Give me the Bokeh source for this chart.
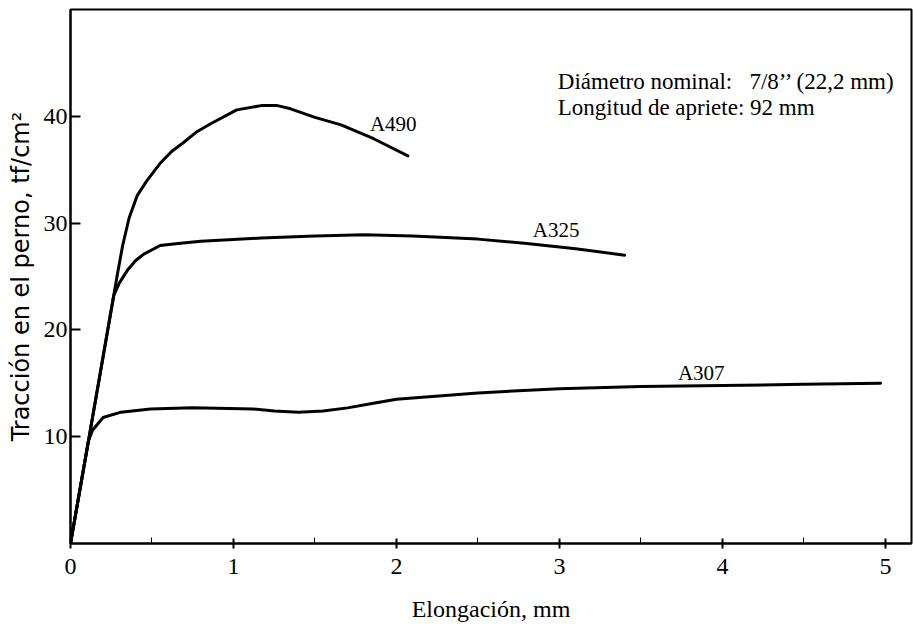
from bokeh.plotting import figure
from bokeh.models import Range1d, LinearAxis, FixedTicker, Label
from bokeh.embed import file_html
from bokeh.resources import INLINE

# Data (x: elongation mm, y: tf/cm2)
a490_x = [0, 0.11, 0.265, 0.29, 0.32, 0.36, 0.41, 0.47, 0.55, 0.62, 0.69, 0.77, 0.86, 1.02, 1.17, 1.27, 1.35, 1.5, 1.66, 1.86, 2.07]
a490_y = [0, 9.6, 23.2, 25.4, 27.9, 30.5, 32.6, 34.0, 35.6, 36.7, 37.5, 38.5, 39.3, 40.6, 41.0, 41.0, 40.7, 39.9, 39.2, 37.9, 36.3]

a325_x = [0, 0.11, 0.265, 0.3, 0.35, 0.4, 0.45, 0.55, 0.66, 0.8, 1.17, 1.5, 1.8, 2.1, 2.5, 2.8, 3.1, 3.4]
a325_y = [0, 9.6, 23.2, 24.4, 25.6, 26.5, 27.1, 27.9, 28.1, 28.3, 28.6, 28.8, 28.9, 28.8, 28.5, 28.1, 27.6, 27.0]

a307_x = [0, 0.11, 0.135, 0.2, 0.31, 0.49, 0.75, 1.12, 1.25, 1.4, 1.55, 1.7, 1.85, 2.0, 2.5, 3.0, 3.5, 4.0, 4.5, 4.97]
a307_y = [0, 9.6, 10.6, 11.8, 12.3, 12.6, 12.7, 12.6, 12.4, 12.3, 12.4, 12.7, 13.1, 13.5, 14.1, 14.5, 14.7, 14.8, 14.9, 15.0]

series_names = ["A490", "A325", "A307"]
label_pos_x = [1.98, 2.98, 3.87]
label_pos_y = [39.3, 29.4, 16.0]

x_ticks = [0, 1, 2, 3, 4, 5]
x_minor = [0.5, 1.5, 2.5, 3.5, 4.5]
y_ticks = [10, 20, 30, 40]

info_lines = ["Di\u00e1metro nominal:\u00a0\u00a0\u00a07/8\u2019\u2019 (22,2 mm)", "Longitud de apriete: 92 mm"]

SERIF = "Liberation Serif"

p = figure(width=913, height=629, output_backend="svg", toolbar_location=None,
           x_range=Range1d(0, 5.16), y_range=Range1d(0, 50),
           x_axis_location=None, y_axis_location=None,
           min_border_left=70, min_border_right=2, min_border_top=9, min_border_bottom=86)
p.grid.visible = False
p.outline_line_color = "black"
p.outline_line_width = 2
p.background_fill_color = "white"
p.border_fill_color = "white"

xa = LinearAxis(ticker=FixedTicker(ticks=x_ticks, minor_ticks=x_minor))
xa.axis_label = "Elongaci\u00f3n, mm"
xa.axis_label_text_font = SERIF
xa.axis_label_text_font_style = "normal"
xa.axis_label_text_font_size = "24px"
xa.axis_label_text_color = "black"
xa.axis_label_standoff = 19
xa.major_label_text_font = SERIF
xa.major_label_text_font_size = "24px"
xa.major_label_text_color = "black"
xa.major_label_standoff = 10
xa.major_tick_in = 5
xa.major_tick_out = 5
xa.minor_tick_in = 6
xa.minor_tick_out = 0
xa.axis_line_width = 2
xa.major_tick_line_width = 2
p.add_layout(xa, "below")

ya = LinearAxis(ticker=FixedTicker(ticks=y_ticks, minor_ticks=[]))
ya.axis_label = "Tracci\u00f3n en el perno, tf/cm\u00b2"
ya.axis_label_text_font = "DejaVu Sans"
ya.axis_label_text_font_style = "normal"
ya.axis_label_text_font_size = "24px"
ya.axis_label_text_color = "black"
ya.axis_label_standoff = 6
ya.major_label_text_font = SERIF
ya.major_label_text_font_size = "24px"
ya.major_label_text_color = "black"
ya.major_label_standoff = 3
ya.major_tick_in = 10
ya.major_tick_out = 0
ya.axis_line_width = 2
ya.major_tick_line_width = 2
p.add_layout(ya, "left")

for xs, ys in [(a490_x, a490_y), (a325_x, a325_y), (a307_x, a307_y)]:
    p.line(xs, ys, line_color="black", line_width=3, line_join="round", line_cap="round")

for name, lx, ly in zip(series_names, label_pos_x, label_pos_y):
    p.add_layout(Label(x=lx, y=ly, text=name, text_font=SERIF, text_font_size="21px",
                       text_align="center", text_baseline="middle", text_color="black"))

for i, t in enumerate(info_lines):
    p.add_layout(Label(x=2.99, y=43.3 - 2.43 * i, text=t, text_font=SERIF, text_font_size="23px",
                       text_align="left", text_baseline="alphabetic", text_color="black"))

open("out.html", "w").write(file_html(p, INLINE))
